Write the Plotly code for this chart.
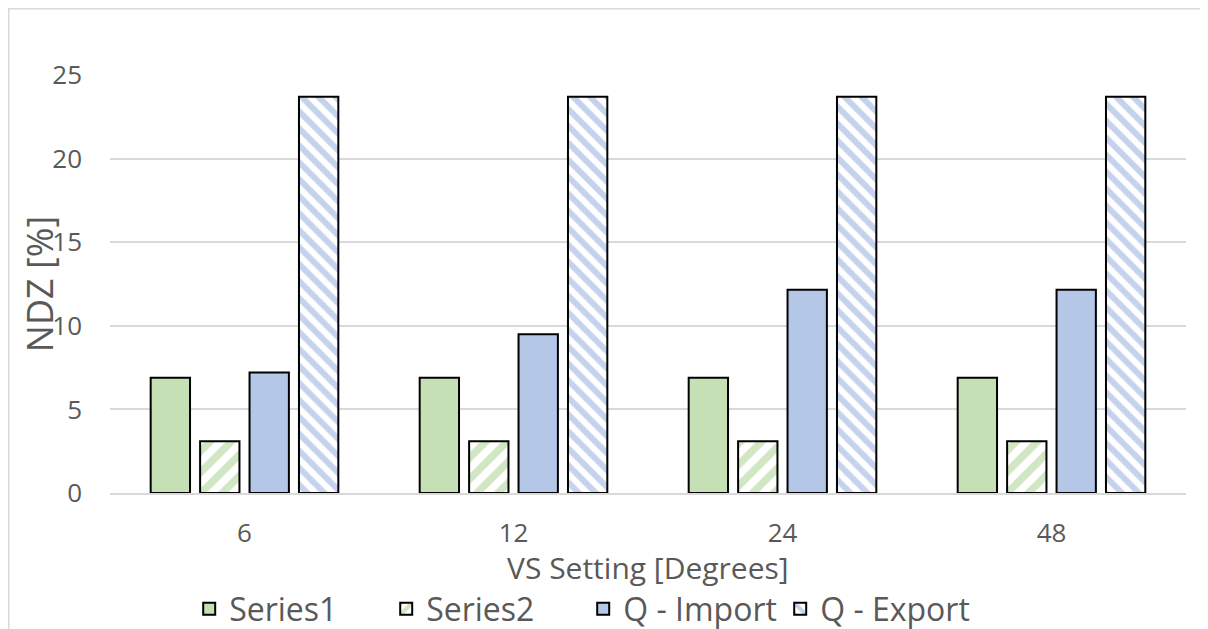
import plotly.graph_objects as go

categories = ["6", "12", "24", "48"]
series1 = [6.9, 6.9, 6.9, 6.9]
series2 = [3.1, 3.1, 3.1, 3.1]
q_import = [7.2, 9.5, 12.15, 12.15]
q_export = [23.7, 23.7, 23.7, 23.7]
y_ticks = [0, 5, 10, 15, 20, 25]

FONT = "Open Sans"
TXT = "#595959"
line = dict(color="black", width=2)

fig = go.Figure()
fig.add_bar(name="Series1", x=categories, y=series1,
            marker=dict(color="#c5e0b4", line=line))
fig.add_bar(name="Series2", x=categories, y=series2,
            marker=dict(color="white", line=line,
                        pattern=dict(shape="/", fgcolor="#a3ce86", bgcolor="white",
                                     size=15, solidity=0.5)))
fig.add_bar(name="Q - Import", x=categories, y=q_import,
            marker=dict(color="#b4c7e7", line=line))
fig.add_bar(name="Q - Export", x=categories, y=q_export,
            marker=dict(color="white", line=line,
                        pattern=dict(shape="\\", fgcolor="#89a6da", bgcolor="white",
                                     size=12, solidity=0.5)))

fig.update_layout(
    width=1208, height=629,
    margin=dict(l=102, r=30, t=67, b=144),
    paper_bgcolor="white", plot_bgcolor="white",
    barmode="group", bargap=0.265, bargroupgap=0.204,
    font=dict(family=FONT, color=TXT, size=26),
    showlegend=True,
    legend=dict(orientation="h", xref="container", yref="container",
                x=0.15, xanchor="left", y=0.0445, yanchor="middle",
                font=dict(size=32, color=TXT), itemwidth=30, traceorder="normal",
                entrywidth=152, entrywidthmode="pixels",
                bgcolor="rgba(0,0,0,0)"),
    xaxis=dict(type="category", showgrid=False, showline=True, linecolor="#d9d9d9",
               linewidth=1.5, ticks="", tickfont=dict(size=26, color=TXT),
               ticklabelstandoff=16),
    yaxis=dict(range=[0, 25], tickvals=y_ticks, showgrid=True, gridcolor="#d9d9d9",
               gridwidth=1.5, zeroline=False, showline=False, ticks="",
               tickfont=dict(size=26, color=TXT), ticklabelstandoff=27),
    annotations=[
        dict(text="NDZ [%]", xref="paper", yref="paper", x=-0.066, y=0.502,
             xanchor="center", yanchor="middle", textangle=-90, showarrow=False,
             font=dict(size=36, color=TXT)),
        dict(text="VS Setting [Degrees]", xref="paper", yref="paper", x=0.5, y=-0.179,
             xanchor="center", yanchor="middle", showarrow=False,
             font=dict(size=30, color=TXT)),
    ],
    shapes=[dict(type="rect", xref="paper", yref="paper", x0=-0.0941, x1=1.2,
                 y0=-0.5, y1=1.1585, line=dict(color="#d9d9d9", width=1.5),
                 fillcolor="rgba(0,0,0,0)", layer="below")],
)

fig.write_html("out.html")
